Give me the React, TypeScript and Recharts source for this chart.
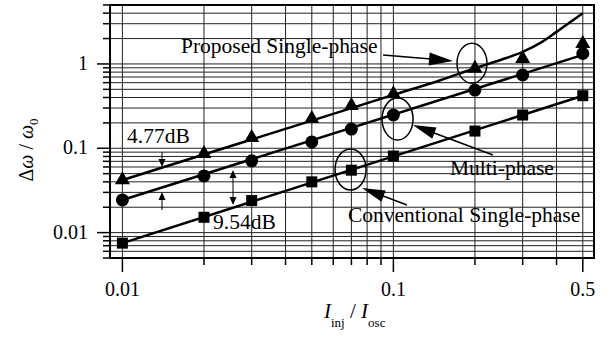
import React from "react";
import {
  ComposedChart,
  Line,
  Scatter,
  XAxis,
  YAxis,
  CartesianGrid,
  ReferenceArea,
  ReferenceDot,
  ReferenceLine,
  Label,
} from "recharts";

const FONT = '"Liberation Serif", "Times New Roman", Times, serif';

// measured points (I_inj / I_osc)
const injRatio = [0.01, 0.02, 0.03, 0.05, 0.07, 0.1, 0.2, 0.3, 0.5];
const proposedMeasured = [0.043, 0.088, 0.136, 0.229, 0.326, 0.45, 0.9, 1.18, 1.77];
const multiMeasured = [0.0244, 0.047, 0.071, 0.119, 0.169, 0.248, 0.49, 0.74, 1.33];
const conventionalMeasured = [0.0075, 0.0152, 0.024, 0.04, 0.055, 0.081, 0.16, 0.248, 0.42];

// theory curves
const proposedCurveX = [0.01, 0.05, 0.1, 0.15, 0.2, 0.25, 0.3, 0.35, 0.4, 0.45, 0.5];
const proposedCurveY = [0.042, 0.213, 0.43, 0.646, 0.89, 1.12, 1.39, 1.79, 2.4, 3.15, 4.0];
const multiCurveX = [0.01, 0.5];
const multiCurveY = [0.0244, 1.28];
const conventionalCurveX = [0.01, 0.5];
const conventionalCurveY = [0.0075, 0.42];

// axes
const xTicks = [0.01, 0.02, 0.03, 0.04, 0.05, 0.06, 0.07, 0.08, 0.09, 0.1, 0.2, 0.3, 0.4, 0.5];
const xTickLabels = ["0.01", "0.1", "0.5"];
const yTicks = [
  0.005, 0.006, 0.007, 0.008, 0.009,
  0.01, 0.02, 0.03, 0.04, 0.05, 0.06, 0.07, 0.08, 0.09,
  0.1, 0.2, 0.3, 0.4, 0.5, 0.6, 0.7, 0.8, 0.9,
  1, 2, 3, 4, 5,
];
const yTickLabels = ["0.01", "0.1", "1"];

const toPoints = (xs: number[], ys: number[]) => xs.map((x, i) => ({ x, y: ys[i] }));

const XTick = (props: any) => {
  const { x, y, payload } = props;
  const label = xTickLabels.find((l) => Number(l) === payload.value);
  return (
    <g>
      <line x1={x} y1={y} x2={x} y2={y + (label ? 14 : 7)} stroke="#000" strokeWidth={1.5} />
      {label && (
        <text x={x} y={y + 38} textAnchor="middle" fontSize={20} fontFamily={FONT} fill="#000">
          {label}
        </text>
      )}
    </g>
  );
};

const YTick = (props: any) => {
  const { x, y, payload } = props;
  const label = yTickLabels.find((l) => Number(l) === payload.value);
  return (
    <g>
      <line x1={x} y1={y} x2={x - (label ? 13 : 7)} y2={y} stroke="#000" strokeWidth={1.5} />
      {label && (
        <text x={x - 22} y={y + 6} textAnchor="end" fontSize={20} fontFamily={FONT} fill="#000">
          {label}
        </text>
      )}
    </g>
  );
};

const Triangle = (props: any) => {
  const { cx, cy } = props;
  return <polygon points={`${cx},${cy - 8} ${cx - 7.5},${cy + 5} ${cx + 7.5},${cy + 5}`} fill="#000" />;
};
const Circle = (props: any) => <circle cx={props.cx} cy={props.cy} r={6.5} fill="#000" />;
const Square = (props: any) => (
  <rect x={props.cx - 5.5} y={props.cy - 5.5} width={11} height={11} fill="#000" />
);

const ellipse = (rx: number, ry: number) => (props: any) => (
  <ellipse cx={props.cx} cy={props.cy} rx={rx} ry={ry} fill="none" stroke="#000" strokeWidth={1.5} />
);

const note = (text: string) => (props: any) => (
  <text x={props.cx} y={props.cy} fontSize={21.5} fontFamily={FONT} fill="#000">
    {text}
  </text>
);

const head = (tx: number, ty: number, ux: number, uy: number, len: number, w: number) => {
  const bx = tx - ux * len;
  const by = ty - uy * len;
  return `${tx},${ty} ${bx - uy * w},${by + ux * w} ${bx + uy * w},${by - ux * w}`;
};

const arrow = (len: number, w: number, sw: number, both = false) => (props: any) => {
  const { x1, y1, x2, y2 } = props;
  const d = Math.hypot(x2 - x1, y2 - y1) || 1;
  const ux = (x2 - x1) / d;
  const uy = (y2 - y1) / d;
  return (
    <g>
      <line
        x1={both ? x1 + ux * len * 0.8 : x1}
        y1={both ? y1 + uy * len * 0.8 : y1}
        x2={x2 - ux * len * 0.8}
        y2={y2 - uy * len * 0.8}
        stroke="#000"
        strokeWidth={sw}
      />
      <polygon points={head(x2, y2, ux, uy, len, w)} fill="#000" />
      {both && <polygon points={head(x1, y1, -ux, -uy, len, w)} fill="#000" />}
    </g>
  );
};

const YTitle = () => (
  <text
    x={33}
    y={150}
    transform="rotate(-90, 33, 150)"
    textAnchor="middle"
    fontSize={20}
    fontFamily={FONT}
    fill="#000"
  >
    <tspan>Δ</tspan>
    <tspan fontStyle="italic">ω</tspan>
    <tspan> / </tspan>
    <tspan fontStyle="italic">ω</tspan>
    <tspan fontSize={13} dy={5}>0</tspan>
  </text>
);

const XTitle = () => (
  <text x={324} y={318} fontSize={21} fontFamily={FONT} fill="#000">
    <tspan fontStyle="italic">I</tspan>
    <tspan fontSize={13} dy={9}>inj</tspan>
    <tspan dy={-9}> / </tspan>
    <tspan fontStyle="italic">I</tspan>
    <tspan fontSize={13} dy={9}>osc</tspan>
  </text>
);

export default function App() {
  return (
    <div style={{ position: "absolute", left: 0, top: 0, background: "#fff" }}>
      <ComposedChart width={614} height={343} margin={{ top: 5, right: 20, left: 0, bottom: 0 }}>
        <CartesianGrid stroke="#222" strokeWidth={1} />
        <XAxis
          dataKey="x"
          type="number"
          scale="log"
          domain={[0.009, 0.55]}
          allowDataOverflow
          ticks={xTicks}
          interval={0}
          tick={<XTick />}
          tickSize={0}
          tickMargin={0}
          axisLine={false}
          height={85}
        >
          <Label content={() => <XTitle />} />
        </XAxis>
        <YAxis
          dataKey="y"
          type="number"
          scale="log"
          domain={[0.005, 5]}
          allowDataOverflow
          ticks={yTicks}
          interval={0}
          tick={<YTick />}
          tickSize={0}
          tickMargin={0}
          axisLine={false}
          width={110}
        >
          <Label content={() => <YTitle />} />
        </YAxis>

        <Line data={toPoints(proposedCurveX, proposedCurveY)} dataKey="y" type="monotone" stroke="#000" strokeWidth={2.5} dot={false} isAnimationActive={false} />
        <Line data={toPoints(multiCurveX, multiCurveY)} dataKey="y" type="linear" stroke="#000" strokeWidth={2.5} dot={false} isAnimationActive={false} />
        <Line data={toPoints(conventionalCurveX, conventionalCurveY)} dataKey="y" type="linear" stroke="#000" strokeWidth={2.5} dot={false} isAnimationActive={false} />

        <Scatter data={toPoints(injRatio, proposedMeasured)} shape={<Triangle />} isAnimationActive={false} />
        <Scatter data={toPoints(injRatio, multiMeasured)} shape={<Circle />} isAnimationActive={false} />
        <Scatter data={toPoints(injRatio, conventionalMeasured)} shape={<Square />} isAnimationActive={false} />

        {/* callouts */}
        <ReferenceDot x={0.195} y={1.02} shape={ellipse(15, 20)} />
        <ReferenceDot x={0.1036} y={0.222} shape={ellipse(15.5, 21)} />
        <ReferenceDot x={0.0695} y={0.056} shape={ellipse(15.5, 20.5)} />

        <ReferenceLine segment={[{ x: 0.0916, y: 1.277 }, { x: 0.166, y: 1.084 }]} shape={arrow(24, 6.5, 1.5)} />
        <ReferenceLine segment={[{ x: 0.233, y: 0.0833 }, { x: 0.118, y: 0.1888 }]} shape={arrow(23, 6, 1.5)} />
        <ReferenceLine segment={[{ x: 0.1122, y: 0.02125 }, { x: 0.0766, y: 0.0338 }]} shape={arrow(23, 6, 1.5)} />

        <ReferenceLine segment={[{ x: 0.014, y: 0.0903 }, { x: 0.014, y: 0.06 }]} shape={arrow(8, 3.5, 1)} />
        <ReferenceLine segment={[{ x: 0.014, y: 0.01854 }, { x: 0.014, y: 0.0303 }]} shape={arrow(8, 3.5, 1)} />
        <ReferenceLine segment={[{ x: 0.0256, y: 0.0213 }, { x: 0.0256, y: 0.0553 }]} shape={arrow(8, 3.5, 1, true)} />

        <ReferenceDot x={0.01645} y={1.349} shape={note("Proposed Single-phase")} />
        <ReferenceDot x={0.1618} y={0.0482} shape={note("Multi-phase")} />
        <ReferenceDot x={0.068} y={0.01336} shape={note("Conventional Single-phase")} />
        <ReferenceDot x={0.0104} y={0.1155} shape={note("4.77dB")} />
        <ReferenceDot x={0.0216} y={0.01104} shape={note("9.54dB")} />

        <ReferenceArea x1={0.009} x2={0.55} y1={0.005} y2={5} fill="none" stroke="#000" strokeWidth={2} />
      </ComposedChart>
    </div>
  );
}
